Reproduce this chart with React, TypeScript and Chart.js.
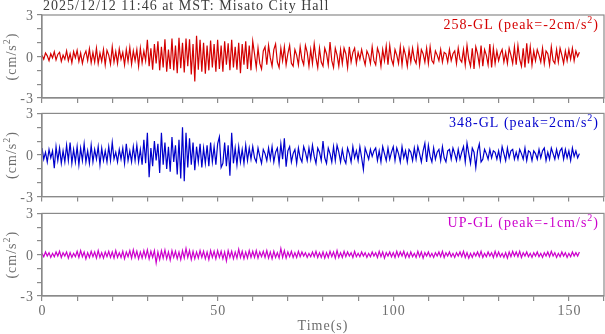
import React, { useEffect, useRef } from 'react';
import { Chart, registerables } from 'chart.js';

Chart.register(...registerables);

// ---------- data ----------
const SAMPLE_DT = 0.5; // seconds between samples
const X_MIN = 0;
const X_MAX = 160;
const Y_MIN = -3;
const Y_MAX = 3;
const TITLE_TEXT = '2025/12/12 11:46 at MST: Misato City Hall';
const X_LABEL_VALUES = [0, 50, 100, 150];
const Y_LABEL_VALUES = [-3, 0, 3];
const X_TITLE = 'Time(s)';
const Y_TITLE = '(cm/s';

const componentNames = ['258-GL', '348-GL', 'UP-GL'];
const peakValues = [-2, 2, -1];
const componentColors = ['#d40000', '#0000cc', '#cc00cc'];

const ns258 = [
  0.1,-0.2,0.25,0.05,-0.3,0.2,-0.1,0.35,-0.25,0.15,0.3,-0.35,0.1,-0.2,0.4,-0.3,0.2,-0.45,0.35,-0.1,
  0.45,-0.35,0.25,-0.5,0.1,0.4,-0.3,0.55,-0.45,0.3,-0.4,0.6,-0.5,0.25,-0.35,0.5,-0.6,0.45,0.1,-0.55,
  0.7,-0.4,0.35,-0.5,0.55,-0.2,0.3,-0.6,0.5,-0.35,0.65,-0.55,0.4,-0.3,0.5,-0.7,0.6,-0.45,0.4,-0.3,
  1.2,-0.7,0.6,-0.95,0.9,-0.5,1.1,-1.0,0.7,-0.8,1.25,-1.1,0.5,-0.9,1.3,-1.0,0.8,-1.2,1.35,-0.85,
  1.0,-1.15,1.3,-0.7,1.25,-1.3,0.9,-1.8,1.5,-0.95,1.2,-1.1,1.0,-1.25,0.8,-1.0,1.15,-0.8,0.9,-1.1,
  1.2,-0.9,0.8,-1.1,1.1,-0.6,0.95,-1.0,1.2,-0.8,0.7,-0.95,1.0,-1.2,0.9,-0.6,1.1,-0.9,0.8,-1.0,
  1.1,0.2,-0.8,0.6,-0.5,-0.9,0.4,0.7,-0.6,0.8,-0.1,-0.7,0.5,0.9,-0.4,-0.8,0.6,-0.3,0.7,-0.6,
  0.2,0.8,-0.5,-0.7,0.5,0.1,-0.6,0.7,-0.2,-0.6,0.8,0.3,-0.7,0.5,-0.5,0.9,-0.1,-0.8,0.6,-0.4,
  -0.7,0.6,0.2,-0.6,1.05,-0.3,-0.8,0.6,0.1,-0.7,0.5,-0.5,0.6,0.2,-0.8,0.7,-0.4,0.3,0.6,-0.5,
  0.3,-0.2,0.5,-0.1,-0.6,0.4,0.1,-0.5,0.7,-0.3,-0.6,0.6,0.2,-0.7,0.5,-0.3,0.75,-0.6,0.8,-0.2,
  -0.6,0.5,0.1,-0.5,0.7,-0.6,0.6,0.1,-0.7,0.5,-0.4,0.6,-0.2,-0.5,0.7,-0.6,0.5,0.2,-0.4,0.6,
  -0.5,0.7,-0.3,-0.5,0.4,0.1,-0.3,0.5,-0.4,0.3,0.2,-0.4,0.5,-0.3,0.2,0.4,-0.5,0.6,-0.2,-0.4,
  0.5,-0.6,0.8,-0.2,-0.7,0.6,-0.9,0.7,0.2,-0.6,0.8,-0.7,0.5,0.1,-0.6,0.9,-0.8,0.6,-0.5,0.4,
  -0.3,0.2,0.5,-0.4,0.3,-0.5,0.6,0.1,-0.5,0.7,-0.6,0.8,-0.2,-0.7,0.6,-0.8,0.95,-0.5,0.7,-0.6,
  0.4,-0.3,0.5,0.1,-0.4,0.6,-0.5,0.4,0.2,-0.6,0.7,-0.3,-0.5,0.5,-0.4,0.6,0.1,-0.5,0.4,-0.3,
  0.5,-0.2,0.6,-0.3,0.4,0.0,0.3,
];

const ew348 = [
  0.5,-0.3,0.2,-0.5,0.4,-0.2,0.3,-0.95,0.6,-0.4,0.5,-0.6,0.3,-0.5,0.7,-0.4,0.9,-0.6,0.4,-0.5,
  0.6,-0.7,0.5,-0.4,0.8,-0.5,0.3,-0.6,0.7,-0.5,0.4,-0.3,0.6,-0.7,0.5,-0.4,0.3,-0.5,0.6,-0.4,
  0.9,-0.3,0.2,-0.5,0.4,-0.3,0.5,-0.6,0.8,-0.4,0.3,-0.5,0.6,-0.4,0.7,-0.5,0.4,-0.7,1.1,-0.6,
  1.6,-1.6,0.5,-0.8,1.0,-0.4,0.8,-1.3,1.6,-0.7,0.9,-1.0,0.6,-1.2,1.3,-0.5,0.7,-1.4,1.1,-1.7,
  2.0,-1.9,1.6,-0.9,1.2,-0.7,0.9,-1.1,0.6,-0.5,0.8,-0.9,0.5,-0.6,0.7,-0.8,0.9,-0.5,0.6,-0.7,
  0.8,1.3,-0.9,-0.6,0.9,-0.8,0.7,-1.5,1.6,-0.6,0.5,-0.7,0.6,-0.5,0.4,-0.6,0.7,-0.4,0.5,-0.3,
  0.6,-0.2,-0.5,0.5,-0.1,-0.6,0.4,0.1,-0.4,0.5,-0.3,0.6,-0.5,0.2,0.5,-0.6,0.8,-0.3,1.2,-0.85,
  0.3,0.6,-0.5,0.1,0.4,-0.6,0.5,-0.2,-0.5,0.6,0.2,-0.4,0.5,-0.3,0.7,-0.1,-0.6,0.5,0.2,-0.4,
  1.0,-0.2,-0.6,0.5,0.1,-0.5,0.6,-0.4,0.7,0.2,-0.5,0.4,-0.3,-0.6,0.5,0.1,-0.5,0.6,-0.2,0.3,
  -0.4,0.6,-0.2,-1.05,0.5,0.1,-0.3,0.4,-0.1,0.3,0.5,-0.4,0.3,-0.5,0.6,0.1,-0.4,0.5,-0.3,0.2,
  0.6,-0.4,0.5,0.1,-0.5,0.6,-0.2,0.3,-0.5,0.4,0.2,-0.4,0.5,-0.3,0.6,0.1,-0.5,0.3,0.85,-0.5,
  0.7,-0.1,-0.5,0.5,-0.3,0.2,0.4,-0.4,0.6,-0.2,-0.5,0.3,0.4,-0.3,0.5,0.1,-0.4,0.4,-0.3,0.2,
  0.6,-0.5,0.85,0.1,-0.6,0.5,0.2,-0.9,0.3,0.8,-0.5,-0.3,0.4,0.1,-0.3,0.4,-0.2,0.3,0.2,-0.3,
  0.3,-0.4,0.6,0.1,-0.4,0.5,-0.2,0.3,0.4,-0.3,0.2,-0.3,0.4,0.1,-0.3,0.5,-0.4,0.3,0.2,-0.4,
  0.3,0.1,-0.3,0.4,-0.2,0.3,0.5,-0.4,0.2,-0.3,0.5,0.1,-0.3,0.4,-0.2,0.3,0.5,-0.3,0.4,-0.2,
  0.3,-0.4,0.5,-0.1,0.3,-0.2,0.1,
];

const udUp = [
  0.1,-0.15,0.2,-0.1,0.15,-0.2,0.1,-0.15,0.2,-0.1,0.25,-0.2,0.15,-0.1,0.2,-0.25,0.15,-0.2,0.1,-0.15,
  0.25,-0.2,0.3,-0.15,0.2,-0.3,0.15,-0.2,0.25,-0.15,0.2,-0.25,0.3,-0.2,0.15,-0.25,0.2,-0.15,0.25,-0.2,
  0.2,-0.25,0.3,-0.2,0.15,-0.2,0.25,-0.3,0.2,-0.15,0.3,-0.25,0.35,-0.2,0.25,-0.3,0.2,-0.25,0.3,-0.2,
  0.35,-0.3,0.25,-0.2,0.3,-0.6,0.2,-0.35,0.3,-0.25,0.35,-0.3,0.2,-0.4,0.3,-0.2,0.25,-0.3,0.2,-0.35,
  0.3,-0.25,0.45,-0.2,0.3,-0.35,0.25,-0.3,0.2,-0.25,0.3,-0.2,0.25,-0.3,0.2,-0.35,0.3,-0.2,0.25,-0.3,
  0.3,-0.2,0.25,-0.3,0.2,-0.45,0.3,-0.2,0.25,-0.3,0.2,-0.25,0.4,-0.2,0.25,-0.3,0.2,-0.25,0.3,-0.2,
  0.25,-0.2,0.3,-0.25,0.2,-0.15,0.25,-0.2,0.3,-0.25,0.2,-0.3,0.25,-0.2,0.15,-0.25,0.45,-0.2,0.3,-0.25,
  0.2,-0.15,0.25,-0.2,0.15,-0.2,0.25,-0.15,0.2,-0.1,0.15,-0.2,0.1,-0.15,0.2,-0.15,0.25,-0.2,0.15,-0.2,
  0.2,-0.25,0.15,-0.2,0.25,-0.15,0.2,-0.25,0.3,-0.2,0.15,-0.2,0.25,-0.15,0.2,-0.1,0.15,-0.2,0.25,-0.15,
  0.1,-0.15,0.2,-0.1,0.15,-0.2,0.1,-0.15,0.2,-0.1,0.15,-0.2,0.25,-0.15,0.2,-0.25,0.15,-0.1,0.2,-0.15,
  0.15,-0.2,0.25,-0.15,0.2,-0.1,0.25,-0.2,0.15,-0.2,0.2,-0.15,0.1,-0.2,0.25,-0.15,0.2,-0.25,0.15,-0.1,
  0.2,-0.15,0.1,-0.2,0.15,-0.1,0.2,-0.15,0.25,-0.2,0.15,-0.1,0.2,-0.15,0.1,-0.2,0.15,-0.1,0.2,-0.15,
  0.25,-0.2,0.15,-0.25,0.1,-0.2,0.15,-0.1,0.2,-0.15,0.25,-0.2,0.1,-0.15,0.2,-0.1,0.15,-0.2,0.25,-0.15,
  0.2,-0.15,0.1,-0.2,0.15,-0.25,0.2,-0.15,0.25,-0.1,0.2,-0.15,0.25,-0.2,0.15,-0.1,0.2,-0.15,0.1,-0.2,
  0.15,-0.1,0.2,-0.15,0.1,-0.2,0.15,-0.1,0.2,-0.15,0.25,-0.1,0.15,-0.2,0.1,-0.15,0.2,-0.1,0.15,-0.2,
  0.1,-0.15,0.2,-0.1,0.15,-0.1,0.2,
];

const seriesList = [ns258, ew348, udUp];

// ---------- styling / layout ----------
const FONT = '"Liberation Serif", "Times New Roman", serif';
const GRAY = '#8a8a8a';
const TEXT_GRAY = '#6e6e6e';
const TITLE_COLOR = '#3c3c3c';
const SPACING = '1px';

const panels = [
  { top: 0, height: 110, padTop: 15, axisH: 12, showX: false, showTitle: true },
  { top: 105, height: 100, padTop: 8, axisH: 8, showX: false, showTitle: false },
  { top: 205, height: 129, padTop: 7, axisH: 38, showX: true, showTitle: false },
];

function setSpacing(ctx: any, s: string) {
  if ('letterSpacing' in ctx) ctx.letterSpacing = s;
}

function drawSupText(
  ctx: CanvasRenderingContext2D,
  parts: { t: string; sup?: boolean }[],
  x: number,
  y: number,
  align: 'left' | 'right' | 'center',
  size: number
) {
  const supSize = Math.round(size * 0.68);
  const widths = parts.map((p) => {
    ctx.font = `${p.sup ? supSize : size}px ${FONT}`;
    return ctx.measureText(p.t).width;
  });
  const total = widths.reduce((a, b) => a + b, 0);
  let cx = align === 'right' ? x - total : align === 'center' ? x - total / 2 : x;
  ctx.textAlign = 'left';
  ctx.textBaseline = 'alphabetic';
  parts.forEach((p, i) => {
    ctx.font = `${p.sup ? supSize : size}px ${FONT}`;
    ctx.fillText(p.t, cx, p.sup ? y - size * 0.45 : y);
    cx += widths[i];
  });
}

function Panel({ index }: { index: number }) {
  const ref = useRef<HTMLCanvasElement | null>(null);
  const p = panels[index];

  useEffect(() => {
    if (!ref.current) return;
    const values = seriesList[index];
    const points = values.map((v, i) => ({ x: i * SAMPLE_DT, y: v }));
    const color = componentColors[index];
    const peak = peakValues[index];

    const decor = {
      id: 'decor' + index,
      afterDraw(chart: any) {
        const ctx = chart.ctx as CanvasRenderingContext2D;
        const a = chart.chartArea;
        const xs = chart.scales.x;
        const ys = chart.scales.y;
        ctx.save();
        // frame
        ctx.strokeStyle = GRAY;
        ctx.lineWidth = 1.2;
        ctx.strokeRect(a.left, a.top, a.right - a.left, a.bottom - a.top);
        setSpacing(ctx, SPACING);
        // y tick labels
        ctx.fillStyle = TEXT_GRAY;
        ctx.font = `14px ${FONT}`;
        ctx.textAlign = 'right';
        ctx.textBaseline = 'alphabetic';
        Y_LABEL_VALUES.forEach((v) => {
          ctx.fillText(String(v), a.left - 8, ys.getPixelForValue(v) + 5);
        });
        // x tick labels + title
        if (p.showX) {
          ctx.textAlign = 'center';
          X_LABEL_VALUES.forEach((v) => {
            ctx.fillText(String(v), xs.getPixelForValue(v) + 0.5, a.bottom + 19);
          });
          ctx.fillText(X_TITLE, (a.left + a.right) / 2, a.bottom + 34);
        }
        // component label
        ctx.fillStyle = color;
        drawSupText(
          ctx,
          [{ t: `${componentNames[index]} (peak=${peak}cm/s` }, { t: '2', sup: true }, { t: ')' }],
          a.right - 5,
          a.top + 14,
          'right',
          14
        );
        // y title rotated
        ctx.save();
        ctx.translate(16, (a.top + a.bottom) / 2);
        ctx.rotate(-Math.PI / 2);
        ctx.fillStyle = TEXT_GRAY;
        drawSupText(ctx, [{ t: Y_TITLE }, { t: '2', sup: true }, { t: ')' }], 0, 0, 'center', 14);
        ctx.restore();
        // main title
        if (p.showTitle) {
          ctx.fillStyle = TITLE_COLOR;
          ctx.font = `14px ${FONT}`;
          ctx.textAlign = 'left';
          ctx.textBaseline = 'alphabetic';
          ctx.fillText(TITLE_TEXT, 43, 10);
        }
        ctx.restore();
      },
    };

    const chart = new Chart(ref.current, {
      type: 'line',
      data: {
        datasets: [
          {
            data: points,
            borderColor: color,
            borderWidth: 1.2,
            pointRadius: 0,
            tension: 0,
            fill: false,
          },
        ],
      },
      options: {
        responsive: false,
        animation: false,
        devicePixelRatio: 1,
        layout: { padding: { top: p.padTop, right: 1, left: 0, bottom: 0 } },
        plugins: { legend: { display: false }, tooltip: { enabled: false }, title: { display: false } },
        scales: {
          x: {
            type: 'linear',
            min: X_MIN,
            max: X_MAX,
            afterFit: (s: any) => {
              s.height = p.axisH;
            },
            border: { color: GRAY, width: 1.2 },
            grid: { drawOnChartArea: false, drawTicks: true, tickLength: 5, color: GRAY, lineWidth: 1.2 },
            ticks: {
              stepSize: 10,
              autoSkip: false,
              maxRotation: 0,
              padding: 0,
              font: { family: FONT, size: 14 },
              callback: () => '',
            },
          },
          y: {
            min: Y_MIN,
            max: Y_MAX,
            afterFit: (s: any) => {
              s.width = 42;
            },
            border: { color: GRAY, width: 1.2 },
            grid: { drawOnChartArea: false, drawTicks: true, tickLength: 5, color: GRAY, lineWidth: 1.2 },
            ticks: {
              stepSize: 1,
              autoSkip: false,
              padding: 0,
              font: { family: FONT, size: 14 },
              callback: () => '',
            },
          },
        },
      },
      plugins: [decor],
    });
    return () => chart.destroy();
  }, [index]);

  return (
    <div style={{ position: 'absolute', left: 0, top: p.top, width: 605, height: p.height }}>
      <canvas ref={ref} width={605} height={p.height} style={{ width: 605, height: p.height, display: 'block' }} />
    </div>
  );
}

export default function App() {
  return (
    <div style={{ position: 'absolute', left: 0, top: 0, width: 605, height: 334, background: '#fff', overflow: 'hidden' }}>
      <Panel index={0} />
      <Panel index={1} />
      <Panel index={2} />
    </div>
  );
}
